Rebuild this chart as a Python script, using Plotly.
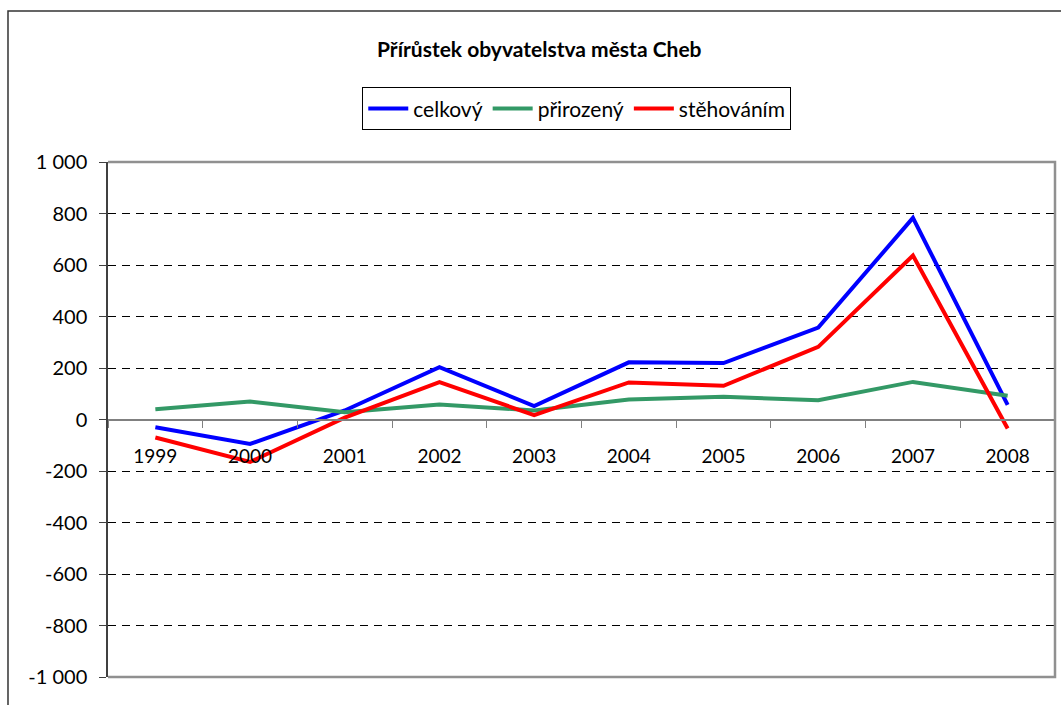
import plotly.graph_objects as go

roky = ["1999", "2000", "2001", "2002", "2003", "2004", "2005", "2006", "2007", "2008"]
celkovy = [-30, -95, 35, 203, 52, 222, 219, 357, 783, 57]
prirozeny = [40, 70, 28, 58, 35, 78, 88, 75, 146, 92]
stehovanim = [-70, -165, 7, 145, 17, 144, 131, 282, 637, -35]
y_ticks = [-1000, -800, -600, -400, -200, 0, 200, 400, 600, 800, 1000]
y_labels = [f"{v:,}".replace(",", " ") for v in y_ticks]

font = "Lato, Open Sans, sans-serif"

fig = go.Figure()
for name, vals, col in [
    ("celkový", celkovy, "#0000FF"),
    ("přirozený", prirozeny, "#339966"),
    ("stěhováním", stehovanim, "#FF0000"),
]:
    fig.add_trace(go.Scatter(x=roky, y=vals, name=name, mode="lines",
                             line=dict(color=col, width=4)))

fig.update_layout(
    width=1061, height=705,
    margin=dict(l=108, r=6, t=162, b=28),
    paper_bgcolor="white", plot_bgcolor="white",
    font=dict(family=font, size=19, color="black"),
    showlegend=True,
    legend=dict(orientation="h", x=0.495, xanchor="center", y=1.145, yanchor="top",
                bordercolor="black", borderwidth=1, font=dict(size=21),
                itemwidth=40, tracegroupgap=0),
    xaxis=dict(type="category", range=[-0.5, 9.5], anchor="free", position=0.5,
               tickson="boundaries", ticks="outside", ticklen=7, tickcolor="#808080",
               showline=True, linecolor="#808080", linewidth=2,
               showgrid=False, ticklabelstandoff=20, tickfont=dict(size=19)),
    yaxis=dict(range=[-1000, 1000], tickvals=y_ticks, ticktext=y_labels,
               ticks="outside", ticklen=7, tickcolor="#404040",
               showline=True, linecolor="#404040", linewidth=1.5,
               showgrid=True, gridcolor="black", gridwidth=1, griddash="8px,6px",
               zeroline=True, zerolinecolor="#808080", zerolinewidth=2,
               ticklabelstandoff=8, tickfont=dict(size=20)),
)

# plot area frame (top, right, bottom)
fig.add_shape(type="path", xref="paper", yref="paper",
              path="M 0 1 L 1 1 L 1 0 L 0 0", line=dict(color="#909090", width=2.5))
# outer chart border
fig.add_shape(type="rect", xref="paper", yref="paper",
              x0=-0.1056, x1=1.05, y0=-0.1, y1=1.293,
              line=dict(color="#333333", width=1.5))

fig.add_annotation(text="<b>Přírůstek obyvatelstva města Cheb</b>", xref="paper", yref="paper",
                   x=0.456, y=1.221, yanchor="middle", showarrow=False,
                   font=dict(size=21, color="black"))

fig.write_html("out.html", config={"displayModeBar": False},
               post_script="document.body.style.margin='0';document.body.style.overflow='hidden';")
